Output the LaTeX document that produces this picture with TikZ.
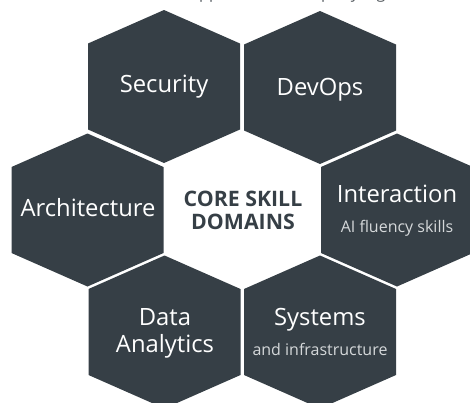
\documentclass[tikz,border=0pt]{standalone}
\usepackage{fontspec}
\setmainfont{Open Sans}
\definecolor{hexfill}{HTML}{363F46}
\definecolor{subtext}{HTML}{D5D8DA}
\definecolor{toptext}{HTML}{555B60}
\tikzset{x=1pt,y=-1pt,
 hexa/.style={fill=hexfill,draw=none},
 title/.style={text=white,font=\fontsize{23.8}{27.7}\selectfont,align=center,anchor=base,inner sep=0pt},
 sub/.style={text=subtext,font=\fontsize{16}{19}\selectfont,anchor=base,inner sep=0pt},
 core/.style={text=hexfill,font=\bfseries\fontsize{21.3}{23.3}\selectfont,align=center,anchor=base,inner sep=0pt},
 cliptext/.style={text=toptext,font=\fontsize{16}{19}\selectfont,anchor=base,inner sep=0pt}}
\newcommand{\hexat}[3]{\fill[hexa] (#1,#2-76.5) -- (#1+76,#2-43) -- (#1+76,#2+43) -- (#1,#2+76.5) -- (#1-76,#2+43) -- (#1-76,#2-43) -- cycle; \coordinate (#3) at (#1,#2);}
\begin{document}
\begin{tikzpicture}
\useasboundingbox (0,0) rectangle (470,402);
\clip (0,0) rectangle (470,402);
\hexat{164}{86.5}{hsec}
\hexat{320}{87.5}{hdev}
\hexat{87.5}{210}{harc}
\hexat{397}{210}{hint}
\hexat{164.5}{332}{hdat}
\hexat{320}{332}{hsys}
\node[cliptext] (cp1) at (204,-1.5) {p};
\node[cliptext] (cp2) at (214,-1.5) {p};
\node[cliptext] (cp3) at (326,-1.5) {p};
\node[cliptext] (cy) at (355,-1.5) {y};
\node[cliptext] (cg) at (381,-1.5) {g};
\node[title] (tsec) at (164,92) {Security};
\node[title] (tdev) at (320,95) {DevOps};
\node[title] (tarc) at (88,216.5) {Architecture};
\node[title] (tint) at (397,202.5) {Interaction};
\node[sub] (sint) at (397,232) {AI fluency skills};
\node[title] (tdat) at (165,352.7) {Data\\Analytics};
\node[title] (tsys) at (320,325) {Systems};
\node[sub] (ssys) at (320,355) {and infrastructure};
\node[core] (core) at (243,229.3) {CORE SKILL\\DOMAINS};
\end{tikzpicture}
\end{document}
